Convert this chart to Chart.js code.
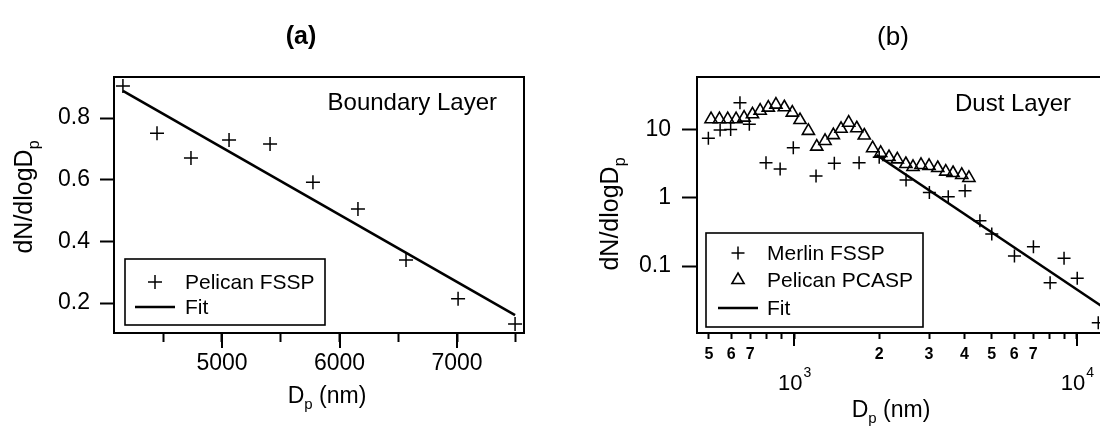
<!DOCTYPE html>
<html>
<head>
<meta charset="utf-8">
<title>Size distributions</title>
<script src="https://cdn.jsdelivr.net/npm/chart.js@4.4.0/dist/chart.umd.min.js"></script>
<style>
    html, body { margin: 0; padding: 0; background: #fff; width: 1100px; height: 426px; overflow: hidden; }
    .panel { position: absolute; top: 0; }
    #panelA { left: 0; }
    #panelB { left: 560px; }
</style>
</head>
<body>
<div class="panel" id="panelA"><canvas id="chartA" width="560" height="426"></canvas></div>
<div class="panel" id="panelB"><canvas id="chartB" width="560" height="426"></canvas></div>

<script>
// -----------------------------
// DATA - panel (a), boundary layer
// -----------------------------
const fsspDp = [4157, 4447, 4736, 5060, 5409, 5774, 6157, 6566, 7009, 7494];
const fsspN  = [0.904, 0.751, 0.670, 0.729, 0.716, 0.592, 0.505, 0.340, 0.214, 0.132];
const fitADp = [4157, 7494];
const fitAN  = [0.888, 0.161];

const xTickValsA = [4500, 5000, 5500, 6000, 6500, 7000, 7500];
const xTickTextA = ["", "5000", "", "6000", "", "7000", ""];
const xMajorA    = [5000, 6000, 7000];
const yTickValsA = [0.2, 0.4, 0.6, 0.8];

// -----------------------------
// DATA - panel (b), dust layer
// -----------------------------
const merlinDp = [498, 548, 597, 644, 695, 796, 893, 994, 1196, 1388, 1698, 2000, 2488, 3008, 3508,
                  4021, 4539, 4998, 6011, 7015, 8035, 9000, 10020, 11890];
const merlinN  = [7.55, 10.0, 10.2, 25.2, 12.1, 3.30, 2.67, 5.5, 2.11, 3.24, 3.30, 3.96, 1.84, 1.20, 1.04,
                  1.28, 0.464, 0.296, 0.140, 0.192, 0.0569, 0.130, 0.0659, 0.0147];

const pcaspDp = [509, 545, 583, 624, 666, 713, 759, 811, 863, 924, 986, 1050, 1124, 1203, 1287, 1377,
                 1466, 1560, 1666, 1771, 1896, 2024, 2166, 2317, 2484, 2633, 2810, 3000, 3220, 3437,
                 3647, 3915, 4150];
const pcaspN  = [14.4, 14.4, 14.4, 14.4, 15.2, 17.0, 19.2, 21.3, 23.6, 21.6, 18.0, 14.0, 9.7, 5.7, 6.9, 8.4,
                 10.4, 12.8, 10.6, 8.3, 5.4, 4.6, 4.0, 3.7, 3.16, 2.86, 3.06, 2.96, 2.76, 2.44,
                 2.33, 2.18, 1.97];

const fitBDp = [1958, 12500];
const fitBN  = [4.29, 0.0241];

const xTickValsB = [500, 600, 700, 800, 900, 1000, 2000, 3000, 4000, 5000, 6000, 7000, 8000, 9000, 10000];
const xTickTextB = ["5", "6", "7", "", "", "", "2", "3", "4", "5", "6", "7", "", "", ""];
const decadeVals = [1000, 10000];
const decadeExps = ["3", "4"];
const yTickValsB = [0.1, 1, 10];
const yTickTextB = ["0.1", "1", "10"];

const FONT = '"Liberation Sans", Arial, Helvetica, sans-serif';

// zip two arrays into {x, y} points
const pts = (xs, ys) => xs.map((x, i) => ({ x: x, y: ys[i] }));


/* =========================
   DRAWING HELPERS
========================= */

// text like "D" + subscript "p" + " (nm)"
function subText(ctx, x, y, main, sub, tail, size) {
    const subSize = Math.round(size * 0.65);
    ctx.font = size + "px " + FONT;
    const w1 = ctx.measureText(main).width;
    const w3 = ctx.measureText(tail).width;
    ctx.font = subSize + "px " + FONT;
    const w2 = ctx.measureText(sub).width;
    let x0 = x - (w1 + w2 + w3) / 2;

    ctx.textAlign = "left";
    ctx.textBaseline = "alphabetic";
    ctx.font = size + "px " + FONT;
    ctx.fillText(main, x0, y);
    ctx.font = subSize + "px " + FONT;
    ctx.fillText(sub, x0 + w1, y + size * 0.28);
    ctx.font = size + "px " + FONT;
    ctx.fillText(tail, x0 + w1 + w2, y);
}

function marker(ctx, style, x, y, r) {
    ctx.beginPath();
    if (style === "cross") {
        ctx.moveTo(x - r, y); ctx.lineTo(x + r, y);
        ctx.moveTo(x, y - r); ctx.lineTo(x, y + r);
    } else if (style === "triangle") {
        for (let k = 0; k < 3; k++) {
            const a = k * 2 * Math.PI / 3;
            const px = x + Math.sin(a) * r, py = y - Math.cos(a) * r;
            if (k === 0) ctx.moveTo(px, py); else ctx.lineTo(px, py);
        }
        ctx.closePath();
    } else {
        ctx.moveTo(x - 20, y); ctx.lineTo(x + 20, y);
    }
    ctx.stroke();
}

// legend box sitting in the lower-left corner of the plot
function drawLegend(chart, box, rows) {
    const { ctx, chartArea: a } = chart;
    const left = a.left + box.dx;
    const top = a.bottom - box.dy - box.h;
    ctx.save();
    ctx.strokeStyle = "#000";
    ctx.fillStyle = "#fff";
    ctx.lineWidth = 1.6;
    ctx.fillRect(left, top, box.w, box.h);
    ctx.strokeRect(left, top, box.w, box.h);

    chart.data.datasets.forEach((ds, i) => {
        const y = top + rows[i];
        const style = ds.showLine ? "line" : ds.pointStyle;
        ctx.lineWidth = ds.showLine ? 2.5 : ds.borderWidth;
        marker(ctx, style, left + box.mx, y, ds.pointRadius);
        ctx.fillStyle = "#000";
        ctx.font = "21px " + FONT;
        ctx.textAlign = "left";
        ctx.textBaseline = "middle";
        ctx.fillText(ds.label, left + box.tx, y + 1);
    });
    ctx.restore();
}

// longer marks for the labelled ticks on the bottom axis
function majorTicks(chart, values, len) {
    const { ctx, chartArea: a } = chart;
    const xs = chart.scales.x;
    ctx.save();
    ctx.strokeStyle = "#000";
    ctx.lineWidth = 2;
    values.forEach(v => {
        const px = Math.round(xs.getPixelForValue(v));
        ctx.beginPath();
        ctx.moveTo(px, a.bottom);
        ctx.lineTo(px, a.bottom + len);
        ctx.stroke();
    });
    ctx.restore();
}

function frame(chart) {
    const { ctx, chartArea: a } = chart;
    ctx.save();
    ctx.strokeStyle = "#000";
    ctx.lineWidth = 2;
    ctx.strokeRect(a.left, a.top, a.right - a.left, a.bottom - a.top);
    ctx.restore();
}

// shared axis options
function axisBase(extra) {
    return Object.assign({
        grid: { drawOnChartArea: false, drawTicks: true, tickColor: "#000", tickWidth: 2 },
        border: { display: false }
    }, extra);
}


/* =========================
   PANEL (a) - LINEAR
========================= */

const decorA = {
    id: "decorA",
    beforeDatasetsDraw(chart) { frame(chart); majorTicks(chart, xMajorA, 15); },
    afterDraw(chart) {
        const { ctx, chartArea: a } = chart;
        ctx.save();
        ctx.fillStyle = "#000";

        // panel letter
        ctx.font = 'bold 25px "Liberation Sans Narrow", ' + FONT;
        ctx.textAlign = "center";
        ctx.textBaseline = "alphabetic";
        ctx.fillText("(a)", 301, 44);

        // layer label
        ctx.font = "24px " + FONT;
        ctx.textAlign = "right";
        ctx.fillText("Boundary Layer", a.right - 27, 110);

        // axis titles
        subText(ctx, 327, 403, "D", "p", " (nm)", 23);
        ctx.translate(32, 197);
        ctx.rotate(-Math.PI / 2);
        subText(ctx, 0, 0, "dN/dlogD", "p", "", 25);
        ctx.restore();

        drawLegend(chart, { dx: 11, dy: 8, w: 200, h: 66, mx: 30, tx: 60 }, [23, 48]);
    }
};

new Chart(document.getElementById("chartA"), {
    type: "scatter",
    data: {
        datasets: [{
            label: "Pelican FSSP",
            data: pts(fsspDp, fsspN),
            pointStyle: "cross",
            pointRadius: 7,
            borderColor: "#000",
            borderWidth: 1.5,
            showLine: false
        }, {
            label: "Fit",
            data: pts(fitADp, fitAN),
            showLine: true,
            pointRadius: 0,
            borderColor: "#000",
            borderWidth: 2.6
        }]
    },
    options: {
        responsive: false,
        animation: false,
        clip: false,
        layout: { padding: { top: 77, right: 36, left: 0, bottom: 0 } },
        plugins: { legend: { display: false }, tooltip: { enabled: false } },
        scales: {
            x: axisBase({
                type: "linear",
                min: 4081,
                max: 7570,
                afterBuildTicks: s => { s.ticks = xTickValsA.map(v => ({ value: v })); },
                afterFit: s => { s.height = 93; },
                grid: { drawOnChartArea: false, tickLength: 9, tickColor: "#000", tickWidth: 2 },
                ticks: {
                    autoSkip: false, maxRotation: 0, padding: 8, color: "#000",
                    font: { family: FONT, size: 23 },
                    callback: (v, i) => xTickTextA[i]
                }
            }),
            y: axisBase({
                type: "linear",
                min: 0.103,
                max: 0.933,
                afterBuildTicks: s => { s.ticks = yTickValsA.map(v => ({ value: v })); },
                afterFit: s => { s.width = 114; },
                grid: { drawOnChartArea: false, tickLength: 14, tickColor: "#000", tickWidth: 2 },
                ticks: {
                    padding: 10, color: "#000",
                    font: { family: FONT, size: 23 },
                    callback: v => v.toFixed(1)
                }
            })
        }
    },
    plugins: [decorA]
});


/* =========================
   PANEL (b) - LOG / LOG
========================= */

const decorB = {
    id: "decorB",
    beforeDatasetsDraw(chart) { frame(chart); majorTicks(chart, decadeVals, 13); },
    afterDraw(chart) {
        const { ctx, chartArea: a } = chart;
        const xs = chart.scales.x;
        ctx.save();
        ctx.fillStyle = "#000";

        ctx.font = "26px " + FONT;
        ctx.textAlign = "center";
        ctx.textBaseline = "alphabetic";
        ctx.fillText("(b)", 333, 45);

        ctx.font = "24px " + FONT;
        ctx.textAlign = "left";
        ctx.fillText("Dust Layer", a.left + 258, 111);

        // decade labels 10^3, 10^4 under the long ticks
        decadeVals.forEach((v, i) => {
            const px = xs.getPixelForValue(v);
            ctx.font = "22px " + FONT;
            const w1 = ctx.measureText("10").width;
            ctx.font = "14px " + FONT;
            const w2 = ctx.measureText(decadeExps[i]).width;
            const x0 = px - (w1 + w2) / 2;
            ctx.textAlign = "left";
            ctx.font = "22px " + FONT;
            ctx.fillText("10", x0, 390);
            ctx.font = "14px " + FONT;
            ctx.fillText(decadeExps[i], x0 + w1 + 1, 377);
        });

        subText(ctx, 331, 417, "D", "p", " (nm)", 23);
        ctx.translate(58, 214);
        ctx.rotate(-Math.PI / 2);
        subText(ctx, 0, 0, "dN/dlogD", "p", "", 25);
        ctx.restore();

        drawLegend(chart, { dx: 9, dy: 6, w: 217, h: 94, mx: 32, tx: 61 }, [20, 47, 75]);
    }
};

new Chart(document.getElementById("chartB"), {
    type: "scatter",
    data: {
        datasets: [{
            label: "Merlin FSSP",
            data: pts(merlinDp, merlinN),
            pointStyle: "cross",
            pointRadius: 6.5,
            borderColor: "#000",
            borderWidth: 1.5,
            showLine: false
        }, {
            label: "Pelican PCASP",
            data: pts(pcaspDp, pcaspN),
            pointStyle: "triangle",
            pointRadius: 7,
            borderColor: "#000",
            backgroundColor: "rgba(0,0,0,0)",
            borderWidth: 1.6,
            showLine: false
        }, {
            label: "Fit",
            data: pts(fitBDp, fitBN),
            showLine: true,
            pointRadius: 0,
            borderColor: "#000",
            borderWidth: 2.6
        }]
    },
    options: {
        responsive: false,
        animation: false,
        clip: false,
        layout: { padding: { top: 77, right: 15, left: 0, bottom: 0 } },
        plugins: { legend: { display: false }, tooltip: { enabled: false } },
        scales: {
            x: axisBase({
                type: "logarithmic",
                min: 454,
                max: 12560,
                afterBuildTicks: s => { s.ticks = xTickValsB.map(v => ({ value: v })); },
                afterFit: s => { s.height = 93; },
                grid: { drawOnChartArea: false, tickLength: 6, tickColor: "#000", tickWidth: 2 },
                ticks: {
                    autoSkip: false, maxRotation: 0, padding: 6, color: "#000",
                    font: { family: FONT, size: 16, weight: "bold" },
                    callback: (v, i) => xTickTextB[i]
                }
            }),
            y: axisBase({
                type: "logarithmic",
                min: 0.01035,
                max: 60.1,
                afterBuildTicks: s => { s.ticks = yTickValsB.map(v => ({ value: v })); },
                afterFit: s => { s.width = 137; },
                grid: { drawOnChartArea: false, tickLength: 15, tickColor: "#000", tickWidth: 2 },
                ticks: {
                    padding: 11, color: "#000",
                    font: { family: FONT, size: 23 },
                    callback: (v, i) => yTickTextB[i]
                }
            })
        }
    },
    plugins: [decorB]
});
</script>
</body>
</html>
